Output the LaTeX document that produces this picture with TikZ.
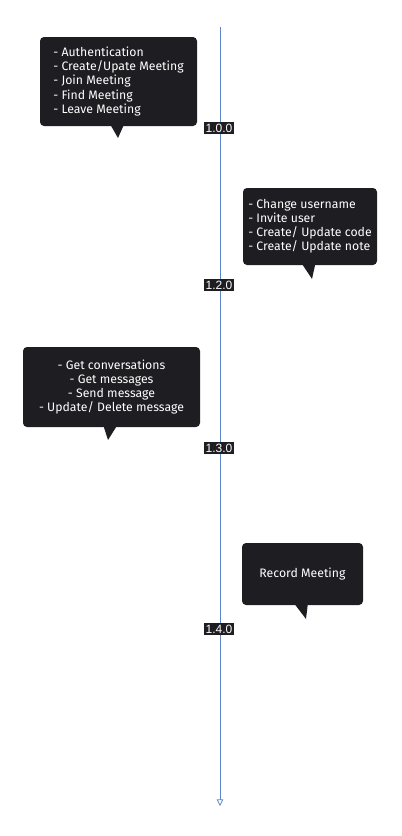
\documentclass[tikz,border=0pt]{standalone}
\usepackage{fontspec}
\setmainfont{Fira Sans}
\newfontfamily\tagfont{Liberation Sans}
\usetikzlibrary{arrows.meta}

\definecolor{inkblack}{HTML}{1E1D22}
\definecolor{lineblue}{HTML}{5B86C8}

\begin{document}
\begin{tikzpicture}[
  x=0.75pt, y=-0.75pt,
  bubble/.style={fill=inkblack,rounded corners=3pt,text=white,
                 font=\fontsize{9.2}{10.6}\selectfont,inner sep=0pt},
  tail/.style={fill=inkblack},
  version/.style={fill=inkblack,text=white,font=\tagfont\fontsize{9}{10}\selectfont,
                  inner xsep=1pt,inner ysep=1.2pt},
  axis/.style={-{Triangle[open,length=5pt,width=5pt]},lineblue,line width=0.6pt},
]
\useasboundingbox (0,0) rectangle (401,836);

% timeline
\coordinate (top) at (220,27);
\coordinate (bottom) at (220,806);
\draw[axis] (top) -- (bottom);

% versions on the line
\node[version] (v100) at (219,128) {1.0.0};
\node[version] (v120) at (219,285) {1.2.0};
\node[version] (v130) at (219,448) {1.3.0};
\node[version] (v140) at (219,629) {1.4.0};

% callouts
\node[bubble,minimum width=117.75pt,minimum height=66.75pt,align=left] (b100) at (118.5,81.5)
  {- Authentication\\
   - Create/Upate Meeting\\
   - Join Meeting\\
   - Find Meeting\\
   - Leave Meeting};
\coordinate (t100) at (118,138);
\fill[tail] ([xshift=-6pt,yshift=1pt]b100.south) -- (t100) -- ([xshift=4pt,yshift=1pt]b100.south) -- cycle;

\node[bubble,minimum width=100.5pt,minimum height=57.75pt,align=left] (b120) at (310,226.5)
  {- Change username\\
   - Invite user\\
   - Create/ Update code\\
   - Create/ Update note};
\coordinate (t120) at (312,279);
\fill[tail] ([xshift=-6pt,yshift=1pt]b120.south) -- (t120) -- ([xshift=4pt,yshift=1pt]b120.south) -- cycle;

\node[bubble,minimum width=132.75pt,minimum height=60pt,align=center] (b130) at (111.5,387)
  {- Get conversations\\
   - Get messages\\
   - Send message\\
   - Update/ Delete message};
\coordinate (t130) at (108,440);
\fill[tail] ([xshift=-6pt,yshift=1pt]b130.south) -- (t130) -- ([xshift=4pt,yshift=1pt]b130.south) -- cycle;

\node[bubble,minimum width=90.75pt,minimum height=46.5pt] (b140) at (302.5,574) {Record Meeting};
\coordinate (t140) at (306,619);
\fill[tail] ([xshift=-6pt,yshift=1pt]b140.south) -- (t140) -- ([xshift=4pt,yshift=1pt]b140.south) -- cycle;

\end{tikzpicture}
\end{document}
